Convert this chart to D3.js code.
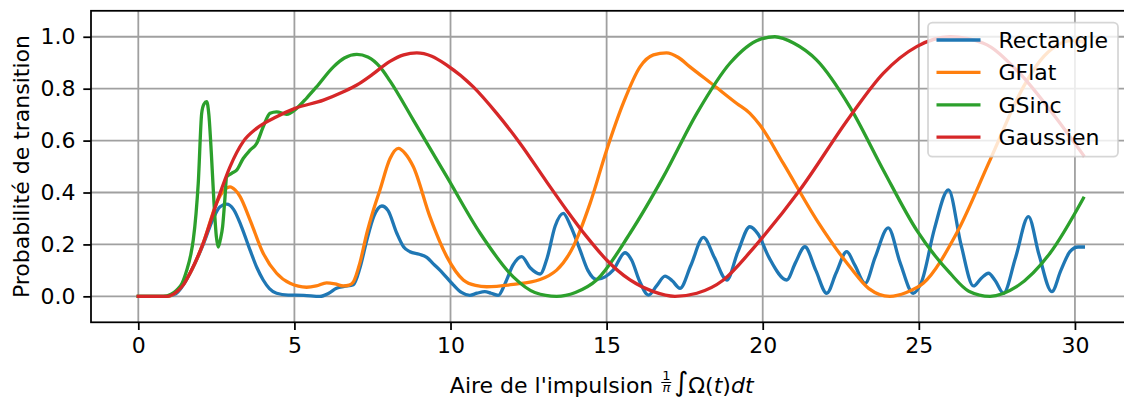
<!DOCTYPE html>
<html>
<head>
<meta charset="utf-8">
<script src="https://cdn.jsdelivr.net/npm/d3@7"></script>
<style>
    body { margin: 0; background: #fff; }
    svg { display: block; font-family: "DejaVu Sans", sans-serif; }
</style>
</head>
<body>
<svg id="chart" width="1124" height="398"></svg>
<script>
// values: [pulse area, probability]
var rectangle = [[0,0],[0.9,0],[1.2,0.01],[1.66,0.09],[2.08,0.2],[2.4,0.3],[2.62,0.345],[2.83,0.355],[3.05,0.335],[3.3,0.27],[3.58,0.178],[3.8,0.11],[4.0,0.063],[4.2,0.03],[4.43,0.012],[4.8,0.005],[5.3,0.004],[5.82,0.0],[6.1,0.012],[6.35,0.031],[6.6,0.038],[6.89,0.045],[7.1,0.11],[7.32,0.217],[7.55,0.31],[7.8,0.348],[8.0,0.33],[8.28,0.243],[8.5,0.19],[8.7,0.172],[9.0,0.162],[9.24,0.15],[9.45,0.125],[9.66,0.101],[10.09,0.044],[10.35,0.015],[10.62,0.004],[10.85,0.012],[11.1,0.018],[11.3,0.012],[11.53,0.004],[11.75,0.05],[12.0,0.12],[12.28,0.153],[12.55,0.11],[12.87,0.086],[13.1,0.15],[13.35,0.27],[13.61,0.32],[13.85,0.27],[14.15,0.178],[14.4,0.1],[14.68,0.065],[14.95,0.075],[15.21,0.101],[15.59,0.168],[15.8,0.14],[16.05,0.06],[16.34,0.005],[16.6,0.04],[16.87,0.078],[17.1,0.06],[17.35,0.031],[17.7,0.12],[18.1,0.227],[18.45,0.15],[18.85,0.063],[19.2,0.17],[19.59,0.268],[19.85,0.24],[20.2,0.15],[20.77,0.063],[21.05,0.13],[21.35,0.191],[21.7,0.1],[22.05,0.012],[22.35,0.09],[22.69,0.172],[22.95,0.12],[23.28,0.05],[23.6,0.15],[24.02,0.264],[24.4,0.13],[24.82,0.012],[25.1,0.06],[25.5,0.26],[25.95,0.41],[26.35,0.2],[26.75,0.04],[27.0,0.07],[27.23,0.089],[27.45,0.06],[27.71,0.012],[28.1,0.15],[28.51,0.307],[28.85,0.16],[29.26,0.018],[29.55,0.1],[29.84,0.172],[30.1,0.19],[30.27,0.19]];

var gflat = [[0,0],[0.9,0],[1.23,0.018],[1.66,0.09],[2.08,0.205],[2.51,0.36],[2.75,0.41],[2.94,0.422],[3.1,0.41],[3.26,0.384],[3.58,0.294],[4.0,0.166],[4.43,0.089],[4.86,0.05],[5.39,0.035],[5.7,0.04],[6.03,0.052],[6.3,0.048],[6.57,0.04],[6.75,0.043],[6.89,0.056],[7.1,0.13],[7.32,0.243],[7.55,0.34],[7.74,0.41],[8.06,0.53],[8.33,0.57],[8.55,0.55],[8.81,0.499],[9.34,0.307],[9.88,0.153],[10.41,0.063],[10.8,0.042],[11.16,0.037],[12.01,0.046],[12.87,0.065],[13.15,0.08],[13.4,0.101],[13.93,0.191],[14.47,0.358],[15.0,0.563],[15.53,0.743],[16.07,0.884],[16.5,0.93],[16.92,0.938],[17.3,0.92],[17.67,0.884],[18.42,0.814],[19.17,0.743],[19.59,0.705],[19.91,0.66],[20.66,0.512],[21.73,0.294],[22.79,0.114],[23.4,0.03],[24.07,0.0],[24.6,0.015],[25.14,0.05],[26.21,0.243],[27.28,0.525],[28.35,0.807],[28.9,0.91],[29.4,0.965],[29.9,0.985],[30.27,0.98]];

var gsinc = [[0,0],[0.8,0],[1.05,0.008],[1.23,0.024],[1.4,0.05],[1.55,0.1],[1.68,0.16],[1.76,0.217],[1.85,0.32],[1.92,0.435],[2.03,0.705],[2.1,0.74],[2.19,0.75],[2.26,0.7],[2.34,0.55],[2.42,0.37],[2.5,0.23],[2.56,0.19],[2.63,0.22],[2.7,0.268],[2.77,0.37],[2.83,0.46],[2.99,0.474],[3.15,0.486],[3.36,0.531],[3.58,0.563],[3.79,0.589],[4.0,0.653],[4.22,0.705],[4.43,0.711],[4.75,0.701],[5.07,0.724],[5.4,0.765],[5.71,0.807],[6.25,0.884],[6.6,0.918],[7.0,0.932],[7.35,0.922],[7.74,0.884],[8.06,0.83],[8.81,0.679],[9.88,0.461],[10.95,0.243],[12.01,0.075],[12.7,0.015],[13.4,0.0],[14.0,0.015],[14.68,0.063],[15.75,0.243],[16.82,0.461],[17.89,0.705],[18.95,0.898],[19.91,0.99],[20.39,1.0],[21.0,0.975],[21.73,0.91],[22.79,0.73],[23.86,0.487],[24.93,0.255],[26.0,0.089],[26.6,0.02],[27.28,0.0],[28.13,0.037],[29.2,0.166],[30.27,0.378]];

var gaussien = [[0,0],[0.9,0],[1.23,0.018],[1.45,0.045],[1.66,0.09],[2.08,0.205],[2.51,0.36],[2.94,0.5],[3.36,0.596],[3.79,0.647],[4.43,0.692],[5.02,0.724],[5.93,0.756],[6.57,0.788],[7.0,0.814],[7.5,0.855],[8.06,0.905],[8.5,0.93],[8.92,0.938],[9.4,0.925],[9.88,0.891],[10.73,0.807],[11.48,0.705],[12.23,0.589],[13.08,0.441],[13.72,0.332],[14.36,0.23],[15.0,0.14],[15.75,0.063],[16.5,0.018],[17.19,0.0],[17.89,0.012],[18.74,0.063],[19.59,0.17],[20.0,0.228],[21.19,0.41],[22.79,0.692],[23.86,0.859],[24.93,0.962],[26.0,1.0],[27.07,0.975],[28.13,0.872],[29.2,0.718],[30.27,0.544]];

var seriesNames = ["Rectangle", "GFlat", "GSinc", "Gaussien"];
var seriesColors = ["#1f77b4", "#ff7f0e", "#2ca02c", "#d62728"];
var xTicks = [0, 5, 10, 15, 20, 25, 30];
var yTicks = [0, 0.2, 0.4, 0.6, 0.8, 1.0];

function drawChart() {
    var allSeries = [rectangle, gflat, gsinc, gaussien];

    var left = 91, right = 1131.6, topY = 10.8, bottomY = 322.3;
    var fontSize = 22;

    var svg = d3.select("#chart");

    var x = d3.scaleLinear().domain([-1.515, 31.815]).range([left, right]);
    var y = d3.scaleLinear().domain([-0.1, 1.1]).range([bottomY, topY]);

    // grid
    svg.append("g")
        .selectAll("line")
        .data(xTicks)
        .enter().append("line")
        .attr("x1", function (d) { return x(d); })
        .attr("x2", function (d) { return x(d); })
        .attr("y1", topY)
        .attr("y2", bottomY)
        .attr("stroke", "#a0a0a0")
        .attr("stroke-width", 1.8);

    svg.append("g")
        .selectAll("line")
        .data(yTicks)
        .enter().append("line")
        .attr("x1", left)
        .attr("x2", right)
        .attr("y1", function (d) { return y(d); })
        .attr("y2", function (d) { return y(d); })
        .attr("stroke", "#a0a0a0")
        .attr("stroke-width", 1.8);

    // curves
    var line = d3.line()
        .x(function (d) { return x(d[0]); })
        .y(function (d) { return y(d[1]); })
        .curve(d3.curveMonotoneX);

    svg.append("g")
        .selectAll("path")
        .data(allSeries)
        .enter().append("path")
        .attr("d", line)
        .attr("fill", "none")
        .attr("stroke", function (d, i) { return seriesColors[i]; })
        .attr("stroke-width", 3.3)
        .attr("stroke-linejoin", "round")
        .attr("stroke-linecap", "square");

    // axes
    var xAxis = svg.append("g")
        .attr("transform", "translate(0," + bottomY + ")")
        .call(d3.axisBottom(x).tickValues(xTicks).tickSize(7.7).tickPadding(7.7).tickFormat(d3.format("d")));

    var yAxis = svg.append("g")
        .attr("transform", "translate(" + left + ",0)")
        .call(d3.axisLeft(y).tickValues(yTicks).tickSize(7.7).tickPadding(7.7).tickFormat(d3.format(".1f")));

    [xAxis, yAxis].forEach(function (a) {
        a.select(".domain").remove();
        a.selectAll("line").attr("stroke", "#000").attr("stroke-width", 1.76);
        a.selectAll("text")
            .attr("font-family", "DejaVu Sans")
            .attr("font-size", fontSize)
            .attr("fill", "#000");
    });

    // spines (right one falls outside the picture)
    svg.append("rect")
        .attr("x", left)
        .attr("y", topY)
        .attr("width", right - left)
        .attr("height", bottomY - topY)
        .attr("fill", "none")
        .attr("stroke", "#000")
        .attr("stroke-width", 1.76);

    // y label
    svg.append("text")
        .attr("transform", "translate(28.5," + ((topY + bottomY) / 2) + ") rotate(-90)")
        .attr("text-anchor", "middle")
        .attr("font-size", fontSize)
        .text("Probabilité de transition");

    // x label with the math part
    var xl = svg.append("g");
    var base = 393;
    var t1 = xl.append("text").attr("y", base).attr("font-size", fontSize).text("Aire de l'impulsion\u00a0");
    var w1 = t1.node().getComputedTextLength();
    var fx = w1 + 6;
    xl.append("text").attr("x", fx).attr("y", 380).attr("text-anchor", "middle").attr("font-size", 13).text("1");
    xl.append("line").attr("x1", fx - 5).attr("x2", fx + 5).attr("y1", 382.5).attr("y2", 382.5).attr("stroke", "#000").attr("stroke-width", 1);
    xl.append("text").attr("x", fx).attr("y", 392).attr("text-anchor", "middle").attr("font-size", 13).attr("font-style", "italic").text("\u03c0");
    xl.append("text").attr("x", fx + 8).attr("y", 391).attr("font-size", 27).text("\u222b");
    var t3 = xl.append("text").attr("x", fx + 22).attr("y", base).attr("font-size", fontSize);
    t3.append("tspan").text("\u03a9(");
    t3.append("tspan").attr("font-style", "italic").text("t");
    t3.append("tspan").text(")");
    t3.append("tspan").attr("font-style", "italic").text("dt");
    var total = fx + 22 + t3.node().getComputedTextLength();
    xl.attr("transform", "translate(" + (601.7 - total / 2) + ",0)");

    // legend
    var lg = svg.append("g").attr("transform", "translate(928,22.7)");
    lg.append("rect")
        .attr("width", 190)
        .attr("height", 134)
        .attr("rx", 4.4)
        .attr("fill", "#fff")
        .attr("fill-opacity", 0.8)
        .attr("stroke", "#cccccc")
        .attr("stroke-opacity", 0.8)
        .attr("stroke-width", 1.76);

    var rows = lg.selectAll(".row")
        .data(seriesNames)
        .enter().append("g")
        .attr("class", "row")
        .attr("transform", function (d, i) { return "translate(0," + (17.3 + i * 32.4) + ")"; });

    rows.append("line")
        .attr("x1", 8.5)
        .attr("x2", 52.5)
        .attr("stroke", function (d, i) { return seriesColors[i]; })
        .attr("stroke-width", 3.3);

    rows.append("text")
        .attr("x", 70.5)
        .attr("y", 8)
        .attr("font-size", fontSize)
        .text(function (d) { return d; });
}

drawChart();
</script>
</body>
</html>
